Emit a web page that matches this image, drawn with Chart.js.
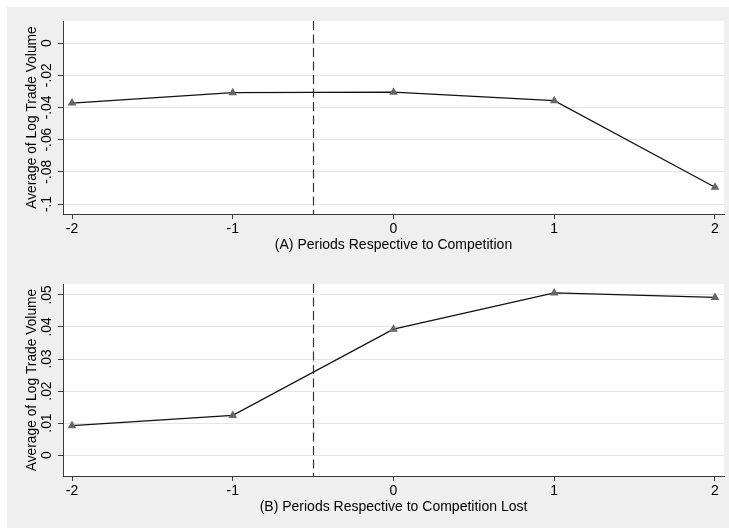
<!DOCTYPE html>
<html>
<head>
<meta charset="utf-8">
<script src="https://cdn.jsdelivr.net/npm/chart.js@4.4.1/dist/chart.umd.min.js"></script>
<style>
  html, body { margin: 0; padding: 0; background: #ffffff; }
  #wrap { position: relative; width: 729px; height: 528px; overflow: hidden; }
  #bg { position: absolute; left: 7px; top: 7px; right: 0; bottom: 0; background: #efefef; }
  .panel { position: absolute; left: 0; width: 729px; height: 262px; }
  #p1 { top: 0; }
  #p2 { top: 262px; }
</style>
</head>
<body>
<div id="wrap">
  <div id="bg"></div>
  <div class="panel" id="p1"><canvas id="c1" width="729" height="262"></canvas></div>
  <div class="panel" id="p2"><canvas id="c2" width="729" height="262"></canvas></div>
</div>
<script>
// Periods relative to the event
const periods = [-2, -1, 0, 1, 2];
const eventMarker = -0.5;

// Panel A: competition
const volumeCompetition = [-0.0373, -0.0308, -0.0305, -0.0358, -0.0896];
const ticksA = [0, -0.02, -0.04, -0.06, -0.08, -0.1];
const tickLabelsA = ['0', '-.02', '-.04', '-.06', '-.08', '-.1'];

// Panel B: competition lost
const volumeLost = [0.0092, 0.0124, 0.0393, 0.0506, 0.0492];
const ticksB = [0, 0.01, 0.02, 0.03, 0.04, 0.05];
const tickLabelsB = ['0', '.01', '.02', '.03', '.04', '.05'];

const yTitle = 'Average of Log Trade Volume';
const xTitleA = '(A) Periods Respective to Competition';
const xTitleB = '(B) Periods Respective to Competition Lost';

const FONT = '"Liberation Sans", Arial, Helvetica, sans-serif';
const AXIS = '#3a3a3a';

const panelPlugin = {
  id: 'panelDecor',
  beforeDraw(chart) {
    const a = chart.chartArea, ctx = chart.ctx;
    ctx.save();
    ctx.fillStyle = '#ffffff';
    ctx.fillRect(a.left, a.top, a.right - a.left, a.bottom - a.top);
    ctx.restore();
  },
  beforeDatasetsDraw(chart) {
    const a = chart.chartArea, ctx = chart.ctx;
    const x = Math.round(chart.scales.x.getPixelForValue(eventMarker)) + 0.5;
    ctx.save();
    ctx.strokeStyle = '#333333';
    ctx.lineWidth = 1.2;
    ctx.setLineDash([9, 4.5]);
    ctx.beginPath();
    ctx.moveTo(x, a.top);
    ctx.lineTo(x, a.bottom);
    ctx.stroke();
    ctx.restore();
  },
  afterDraw(chart) {
    const ctx = chart.ctx, ys = chart.scales.y, a = chart.chartArea;
    const labels = chart.options.plugins.panelDecor.labels;
    ctx.save();
    ctx.fillStyle = '#000000';
    ctx.textAlign = 'center';
    ctx.textBaseline = 'middle';
    ctx.font = '13.8px ' + FONT;
    ys.ticks.forEach((t, i) => {
      const py = ys.getPixelForValue(t.value);
      ctx.save();
      ctx.translate(47.5, py);
      ctx.rotate(-Math.PI / 2);
      ctx.fillText(labels[i], 0, 0);
      ctx.restore();
    });
    ctx.translate(32, (a.top + a.bottom) / 2);
    ctx.rotate(-Math.PI / 2);
    ctx.fillText(yTitle, 0, 0);
    ctx.restore();
  }
};

function makePanel(id, values, yMin, yMax, yTicks, yLabels, xTitle, topPad) {
  return new Chart(document.getElementById(id), {
    type: 'line',
    data: {
      datasets: [{
        data: periods.map((p, i) => ({ x: p, y: values[i] })),
        borderColor: '#111111',
        borderWidth: 1.3,
        pointStyle: 'triangle',
        pointRadius: 5,
        pointBackgroundColor: '#666666',
        pointBorderColor: '#666666',
        pointBorderWidth: 0,
        tension: 0
      }]
    },
    options: {
      responsive: false,
      animation: false,
      events: [],
      layout: { padding: { left: 0, right: 4, top: topPad, bottom: 0 } },
      plugins: {
        legend: { display: false },
        tooltip: { enabled: false },
        panelDecor: { labels: yLabels }
      },
      scales: {
        x: {
          type: 'linear',
          min: -2.056,
          max: 2.056,
          afterBuildTicks(s) { s.ticks = periods.map(v => ({ value: v })); },
          afterFit(s) { s.height = 48; },
          grid: { drawOnChartArea: false, drawTicks: true, tickLength: 5, tickColor: AXIS, tickWidth: 1 },
          border: { display: true, color: AXIS, width: 1 },
          ticks: {
            padding: 2,
            color: '#000000',
            font: { family: FONT, size: 14 },
            callback: v => String(v)
          },
          title: {
            display: true,
            text: xTitle,
            color: '#000000',
            font: { family: FONT, size: 14 },
            padding: { top: 0, bottom: 8.6 }
          }
        },
        y: {
          type: 'linear',
          min: yMin,
          max: yMax,
          afterBuildTicks(s) { s.ticks = yTicks.map(v => ({ value: v })); },
          afterFit(s) { s.width = 63; },
          grid: { color: '#e6e6e6', lineWidth: 1, drawTicks: true, tickLength: 5, tickColor: AXIS, tickWidth: 1 },
          border: { display: true, color: AXIS, width: 1 },
          ticks: { display: false }
        }
      }
    },
    plugins: [panelPlugin]
  });
}

makePanel('c1', volumeCompetition, -0.1062, 0.0137, ticksA, tickLabelsA, xTitleA, 21);
makePanel('c2', volumeLost, -0.0065, 0.0534, ticksB, tickLabelsB, xTitleB, 22);
</script>
</body>
</html>
